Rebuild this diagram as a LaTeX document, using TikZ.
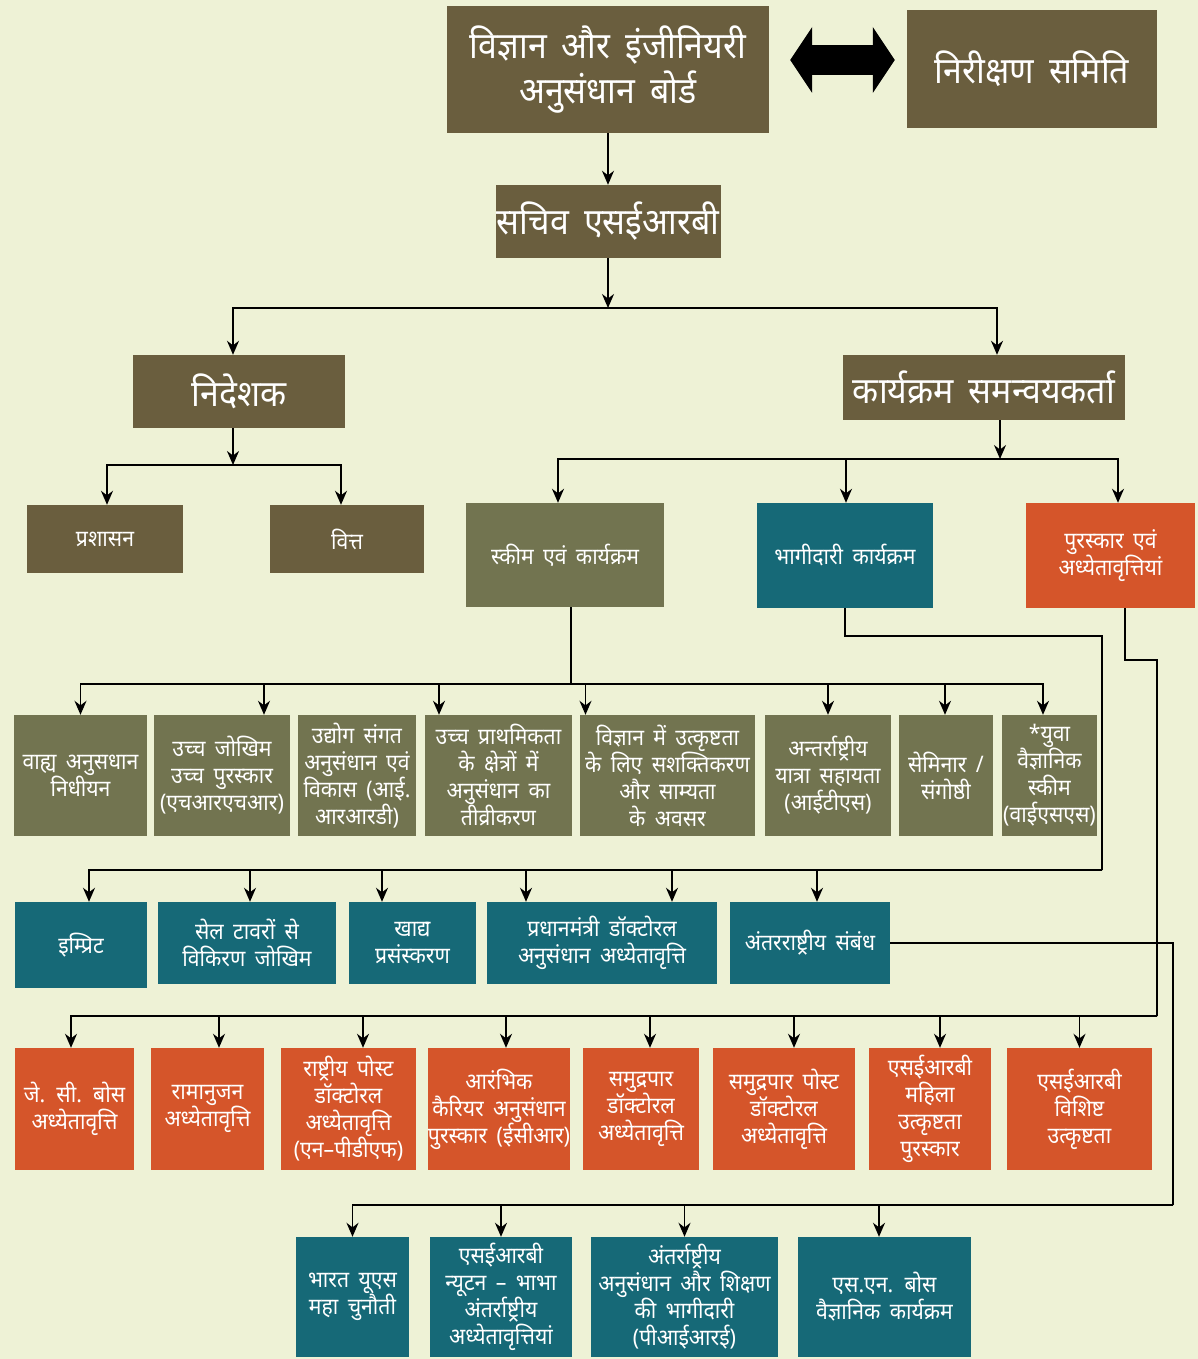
\documentclass[tikz,border=0pt]{standalone}
\usepackage{fontspec}
\newfontfamily\hindi[Script=Devanagari,FakeStretch=0.93,WordSpace=1.7]{Noto Sans}
\usetikzlibrary{arrows.meta}
\definecolor{paper}{RGB}{238,242,214}
\definecolor{boardbrown}{RGB}{106,94,62}
\definecolor{schemegreen}{RGB}{114,116,80}
\definecolor{partteal}{RGB}{22,105,119}
\definecolor{awardorange}{RGB}{213,85,42}

\begin{document}
\begin{tikzpicture}[x=1pt, y=-1pt,
    every node/.style={inner sep=0pt, align=center, text=white},
    big/.style={font=\hindi\fontsize{36.5}{45}\selectfont},
    small/.style={font=\hindi\fontsize{22.8}{27}\selectfont},
    wh/.style 2 args={minimum width=#1pt, minimum height=#2pt},
    brownbox/.style={fill=boardbrown},
    olivebox/.style={fill=schemegreen, small},
    tealbox/.style={fill=partteal, small},
    orangebox/.style={fill=awardorange, small},
    link/.style={line width=1.8pt},
    arr/.style={link, -{Stealth[length=14pt, width=12pt]}},
    bigarrow/.style={line width=30pt, {Triangle[length=22pt, width=66pt, line width=0pt]}-{Triangle[length=22pt, width=66pt, line width=0pt]}}]
    \fill[paper] (0,0) rectangle (1198,1359);

    % top levels
    \node[brownbox, big, wh={322}{127}] (board) at (608,69.5) {विज्ञान और इंजीनियरी\\अनुसंधान बोर्ड};
    \node[brownbox, big, wh={250}{118}] (samiti) at (1032,69) {निरीक्षण समिति};
    \node[brownbox, big, wh={225}{73}] (sachiv) at (608,221.5) {सचिव एसईआरबी};
    \node[brownbox, big, wh={212}{73}] (nideshak) at (239,391.5) {निदेशक};
    \node[brownbox, big, wh={282}{65}] (samanvay) at (984,387.5) {कार्यक्रम समन्वयकर्ता};
    \node[brownbox, small, wh={156}{68}] (prashasan) at (105,539) {प्रशासन};
    \node[brownbox, small, wh={154}{68}] (vitt) at (347,539) {वित्त};
    \node[olivebox, wh={198}{104}] (skim) at (565,555) {स्कीम एवं कार्यक्रम};
    \node[tealbox, wh={176}{105}] (bhagidari) at (845,555.5) {भागीदारी कार्यक्रम};
    \node[orangebox, wh={169}{105}] (puraskar) at (1110.5,555.5) {पुरस्कार एवं\\अध्येतावृत्तियां};

    % schemes
    \node[olivebox, wh={133}{121}] (vahya) at (80.5,775.5) {वाह्य अनुसधान\\निधीयन};
    \node[olivebox, wh={136}{121}] (hrhr) at (222,775.5) {उच्च जोखिम\\उच्च पुरस्कार\\(एचआरएचआर)};
    \node[olivebox, wh={118}{121}] (irrd) at (357,775.5) {उद्योग संगत\\अनुसंधान एवं\\विकास (आई.\\आरआरडी)};
    \node[olivebox, wh={147}{121}] (irhpa) at (498.5,775.5) {उच्च प्राथमिकता\\के क्षेत्रों में\\अनुसंधान का\\तीव्रीकरण};
    \node[olivebox, wh={175}{121}] (sure) at (667.5,775.5) {विज्ञान में उत्कृष्टता\\के लिए सशक्तिकरण\\और साम्यता\\के अवसर};
    \node[olivebox, wh={126}{121}] (its) at (828,775.5) {अन्तर्राष्ट्रीय\\यात्रा सहायता\\(आईटीएस)};
    \node[olivebox, wh={94}{121}] (seminar) at (946,775.5) {सेमिनार /\\संगोष्ठी};
    \node[olivebox, wh={95}{121}] (yss) at (1049.5,775.5) {*युवा\\वैज्ञानिक\\स्कीम\\(वाईएसएस)};

    % partnership
    \node[tealbox, wh={132}{86}] (impart) at (81,945) {इम्प्रिट};
    \node[tealbox, wh={178}{82}] (cell) at (247,943) {सेल टावरों से\\विकिरण जोखिम};
    \node[tealbox, wh={127}{82}] (khadya) at (412.5,943) {खाद्य\\प्रसंस्करण};
    \node[tealbox, wh={230}{82}] (pmdr) at (602,943) {प्रधानमंत्री डॉक्टोरल\\अनुसंधान अध्येतावृत्ति};
    \node[tealbox, wh={160}{82}] (intl) at (810,943) {अंतरराष्ट्रीय संबंध};

    % awards
    \node[orangebox, wh={119}{122}] (jcbose) at (74.5,1109) {जे. सी. बोस\\अध्येतावृत्ति};
    \node[orangebox, wh={113}{122}] (ramanujan) at (207.5,1109) {रामानुजन\\अध्येतावृत्ति};
    \node[orangebox, wh={135}{122}] (npdf) at (348.5,1109) {राष्ट्रीय पोस्ट\\डॉक्टोरल\\अध्येतावृत्ति\\(एन–पीडीएफ)};
    \node[orangebox, wh={138}{122}] (ecr) at (499,1109) {आरंभिक\\कैरियर अनुसंधान\\पुरस्कार (ईसीआर)};
    \node[orangebox, wh={116}{122}] (odf) at (641,1109) {समुद्रपार\\डॉक्टोरल\\अध्येतावृत्ति};
    \node[orangebox, wh={142}{122}] (opdf) at (784,1109) {समुद्रपार पोस्ट\\डॉक्टोरल\\अध्येतावृत्ति};
    \node[orangebox, wh={122}{122}] (wea) at (930,1109) {एसईआरबी\\महिला\\उत्कृष्टता\\पुरस्कार};
    \node[orangebox, wh={145}{122}] (sdea) at (1079.5,1109) {एसईआरबी\\विशिष्ट\\उत्कृष्टता};

    % international
    \node[tealbox, wh={113}{120}] (indous) at (352.5,1297) {भारत यूएस\\महा चुनौती};
    \node[tealbox, wh={142}{120}] (newton) at (501,1297) {एसईआरबी\\न्यूटन – भाभा\\अंतर्राष्ट्रीय\\अध्येतावृत्तियां};
    \node[tealbox, wh={187}{120}] (pire) at (684.5,1297) {अंतर्राष्ट्रीय\\अनुसंधान और शिक्षण\\की भागीदारी\\(पीआईआरई)};
    \node[tealbox, wh={173}{120}] (snbose) at (884.5,1297) {एस.एन. बोस\\वैज्ञानिक कार्यक्रम};

    \coordinate (j1) at (608,308);
    \coordinate (j2) at (233,465);
    \coordinate (j3) at (1000,459);
    \coordinate (j4) at (571,684);
    \coordinate (j5) at (1102,870);
    \coordinate (j6) at (1157,1016);
    \coordinate (j7) at (1173,1205);

    \draw[bigarrow, shorten <=21pt, shorten >=12pt] ([yshift=9.5pt]board.east) -- ([yshift=9.5pt]board.east -| samiti.west);
    \draw[arr] (board.south) -- (sachiv.north);
    \draw[arr] (sachiv.south) -- (j1);
    \draw[arr] (j1) -| ([xshift=-6pt]nideshak.north);
    \draw[arr] (j1) -| ([xshift=13pt]samanvay.north);

    \draw[arr] ([xshift=-6pt]nideshak.south) -- (j2);
    \draw[arr] (j2) -| ([xshift=2pt]prashasan.north);
    \draw[arr] (j2) -| ([xshift=-6pt]vitt.north);

    \draw[arr] ([xshift=16pt]samanvay.south) -- (j3);
    \draw[arr] (j3) -| ([xshift=-7pt]skim.north);
    \draw[arr] (j3) -| ([xshift=1pt]bhagidari.north);
    \draw[arr] (j3) -| ([xshift=7.5pt]puraskar.north);

    \draw[link] ([xshift=6pt]skim.south) -- (j4);
    \draw[arr] (j4) -| (vahya.north);
    \draw[arr] (j4) -| ([xshift=42pt]hrhr.north);
    \draw[arr] (j4) -| ([xshift=-59.5pt]irhpa.north);
    \draw[arr] (j4) -| ([xshift=-82pt]sure.north);
    \draw[arr] (j4) -| (its.north);
    \draw[arr] (j4) -| ([xshift=-1pt]seminar.north);
    \draw[arr] (j4) -| ([xshift=-6.5pt]yss.north);

    \draw[link] (bhagidari.south) -- ++(0,28) -| (j5);
    \draw[arr] (j5) -| ([xshift=8pt]impart.north);
    \draw[arr] (j5) -| ([xshift=3pt]cell.north);
    \draw[arr] (j5) -| ([xshift=-30.5pt]khadya.north);
    \draw[arr] (j5) -| ([xshift=-76pt]pmdr.north);
    \draw[arr] (j5) -| ([xshift=70pt]pmdr.north);
    \draw[arr] (j5) -| ([xshift=7pt]intl.north);

    \draw[link] ([xshift=14.5pt]puraskar.south) -- ++(0,52) -| (j6);
    \draw[arr] (j6) -| ([xshift=-3.5pt]jcbose.north);
    \draw[arr] (j6) -| ([xshift=11.5pt]ramanujan.north);
    \draw[arr] (j6) -| ([xshift=14.5pt]npdf.north);
    \draw[arr] (j6) -| ([xshift=7pt]ecr.north);
    \draw[arr] (j6) -| ([xshift=9pt]odf.north);
    \draw[arr] (j6) -| ([xshift=10pt]opdf.north);
    \draw[arr] (j6) -| ([xshift=10pt]wea.north);
    \draw[arr] (j6) -| (sdea.north);

    \draw[link] (intl.east) -| (j7);
    \draw[arr] (j7) -| (indous.north);
    \draw[arr] (j7) -| (newton.north);
    \draw[arr] (j7) -| (pire.north);
    \draw[arr] (j7) -| ([xshift=-5.5pt]snbose.north);
\end{tikzpicture}
\end{document}
